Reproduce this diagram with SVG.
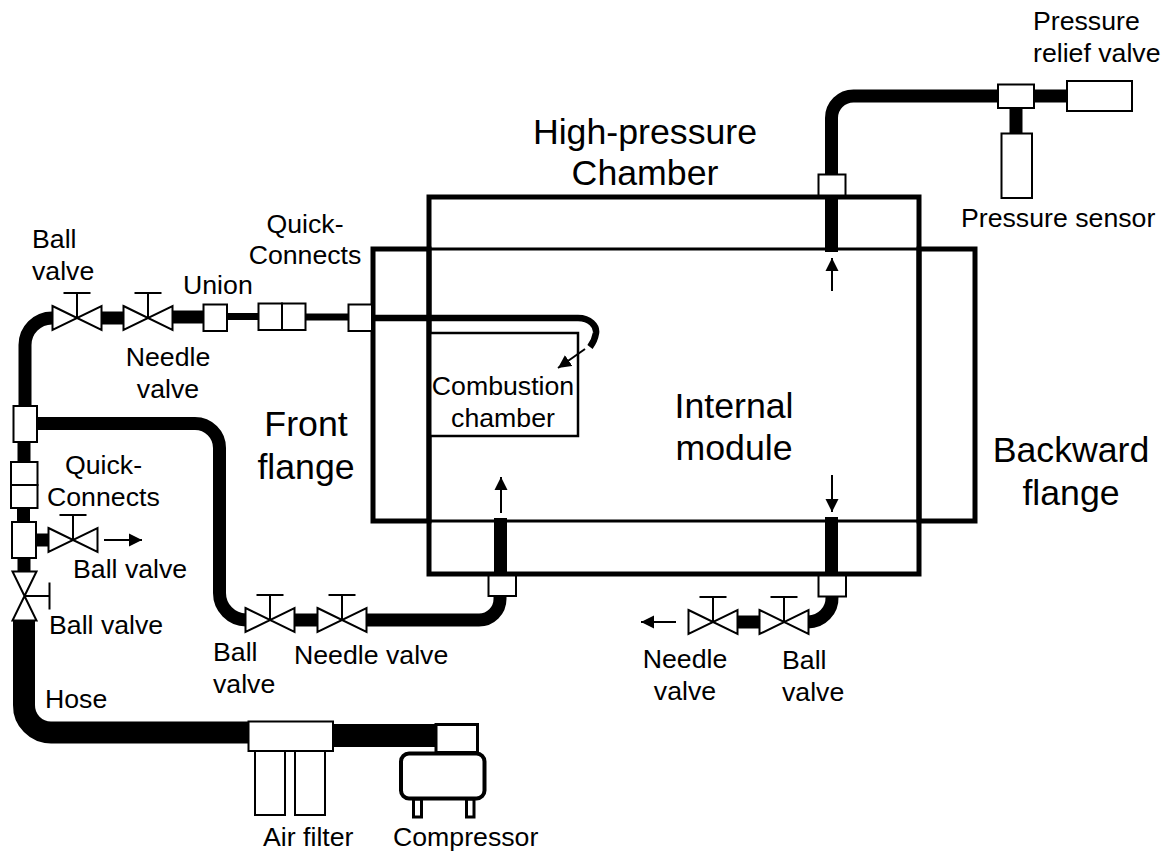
<svg xmlns="http://www.w3.org/2000/svg" width="1176" height="855" viewBox="0 0 1176 855">
<defs>
<marker id="ah" markerUnits="userSpaceOnUse" markerWidth="14" markerHeight="14" refX="13" refY="7" orient="auto"><path d="M0 0.5L13 7L0 13.5Z" fill="#000"/></marker>
<g id="valve"><path class="v" d="M-24.5 -12L24.5 12V-12L-24.5 12Z"/><path class="t" d="M0 0V-25M-13.5 -25H13.5"/></g>
</defs>
<style>
text{font-family:"Liberation Sans",Arial,sans-serif;font-size:26.7px;fill:#000}
.big{font-size:35.7px}
.m{text-anchor:middle}
.p{fill:none;stroke:#000;stroke-width:13}
.b{fill:#fff;stroke:#000;stroke-width:2}
.f{fill:none;stroke:#000;stroke-width:5}
.v{fill:#fff;stroke:#000;stroke-width:2}
.t{fill:none;stroke:#000;stroke-width:2}
.a{fill:none;stroke:#000;stroke-width:2;marker-end:url(#ah)}
</style>
<rect width="1176" height="855" fill="#fff"/>
<g id="connectors">
<path class="p" d="M831.5 185V118A22 22 0 0 1 853.5 96H1067"/>
<path class="p" d="M1016 108V134"/>
<path class="p" d="M25 406V345A27 27 0 0 1 52 318"/>
<path class="p" d="M100 318H123"/>
<path class="p" d="M173 317H204"/>
<path class="p" style="stroke-width:7" d="M227 316.500H258M305 317H348"/>
<path class="p" d="M24 442V462M23.500 508V522M36 540H48M24 558V571"/>
<path class="p" d="M37 423.500H195A24.500 24.500 0 0 1 219.500 448V593A27 27 0 0 0 246 620"/>
<path class="p" d="M294 620H317M366 620H479A21 21 0 0 0 500 599V590"/>
<path class="p" style="stroke-width:22" d="M24 620V705A27 27 0 0 0 51 732.500H250"/>
<path class="p" style="stroke-width:23" d="M333 735.500H437"/>
<path class="p" d="M832 590V597A24 24 0 0 1 808 622"/>
<path class="p" d="M737 622H759"/>
</g>
<g id="high-pressure-chamber">
<rect id="front-flange" class="f" x="373" y="249" width="56" height="272"/>
<rect id="backward-flange" class="f" x="919" y="249" width="56" height="272"/>
<rect class="b" x="429" y="333" width="149" height="103" style="stroke-width:2.500"/>
<path fill="none" stroke="#000" stroke-width="3" d="M429 249H919M429 521H919"/>
<rect class="f" x="429" y="197" width="490" height="377" />
</g>
<g id="internal-pipes">
<path class="p" d="M831.500 197V252M500.500 518V574M831.500 517V573"/>
<path fill="none" stroke="#000" stroke-width="6.500" d="M372 318H578C590 318 597 326 596 333C595 339 593 343 590 347"/>
</g>
<g id="arrows">
<path class="a" d="M832 291V258"/>
<path class="a" d="M501 513V477"/>
<path class="a" d="M832 475V512"/>
<path class="a" d="M104 540H142"/>
<path class="a" d="M676 622H641"/>
<path class="a" d="M585 349L558 368"/>
</g>
<g id="port-top"><rect class="b" x="818.500" y="174.500" width="27" height="21"/></g>
<g id="tee-top"><rect class="b" x="998" y="84.500" width="36" height="23.500"/></g>
<g id="pressure-relief-valve"><rect class="b" x="1067" y="81" width="65" height="30"/></g>
<g id="pressure-sensor"><rect class="b" x="1001.500" y="133.500" width="30.500" height="64.500"/></g>
<g id="valve-ball-top"><use href="#valve" x="77" y="318"/></g>
<g id="valve-needle-top"><use href="#valve" x="148" y="318"/></g>
<g id="union"><rect class="b" x="203.500" y="304.500" width="23.500" height="26.500"/></g>
<g id="quick-connects-top"><rect class="b" x="258.500" y="303.500" width="23.500" height="26.500"/><rect class="b" x="282" y="303.500" width="23.500" height="26.500"/></g>
<g id="port-front"><rect class="b" x="348.500" y="304.500" width="23.500" height="26.500"/></g>
<g id="tee-left-upper"><rect class="b" x="13.500" y="406" width="23.500" height="36"/></g>
<g id="quick-connects-left"><rect class="b" x="11" y="462" width="26.500" height="23"/><rect class="b" x="11" y="485" width="26.500" height="23"/></g>
<g id="tee-left-lower"><rect class="b" x="12" y="522" width="24" height="36"/></g>
<g id="valve-ball-side"><use href="#valve" x="73" y="540"/></g>
<g id="valve-ball-vertical"><use href="#valve" transform="translate(24.500 596) rotate(90)"/></g>
<g id="valve-ball-bottom"><use href="#valve" x="270" y="620"/></g>
<g id="valve-needle-bottom"><use href="#valve" x="342" y="620"/></g>
<g id="port-bottom-left"><rect class="b" x="488.500" y="575.500" width="27.500" height="20.500"/></g>
<g id="port-bottom-right"><rect class="b" x="818.500" y="575.500" width="27.500" height="21"/></g>
<g id="valve-ball-right"><use href="#valve" x="784" y="622"/></g>
<g id="valve-needle-right"><use href="#valve" x="713" y="622"/></g>
<g id="air-filter"><rect class="b" x="255" y="751" width="30" height="64"/><rect class="b" x="295" y="751" width="30" height="64"/><rect class="b" x="248.500" y="721.500" width="84.500" height="29.500"/></g>
<g id="compressor">
<rect class="b" x="413.500" y="799" width="8" height="18" style="stroke-width:3"/>
<rect class="b" x="466.500" y="799" width="7.500" height="18" style="stroke-width:3"/>
<rect class="b" x="436" y="724.500" width="41.500" height="28" style="stroke-width:3"/>
<rect class="b" x="401" y="753.500" width="83.500" height="45" rx="8" style="stroke-width:4"/>
</g>
<g id="labels">
<text x="1033" y="30">Pressure</text>
<text x="1033" y="62">relief valve</text>
<text x="961" y="227">Pressure sensor</text>
<text class="big m" x="645" y="144">High-pressure</text>
<text class="big m" x="645" y="185">Chamber</text>
<text class="m" x="305" y="233">Quick-</text>
<text class="m" x="305" y="264">Connects</text>
<text x="32" y="248">Ball</text>
<text x="32" y="280">valve</text>
<text x="183" y="294">Union</text>
<text class="m" x="168" y="366">Needle</text>
<text class="m" x="168" y="398">valve</text>
<text class="big m" x="306" y="436">Front</text>
<text class="big m" x="306" y="479">flange</text>
<text x="65" y="474">Quick-</text>
<text x="47" y="506">Connects</text>
<text x="73" y="578">Ball valve</text>
<text x="49" y="634">Ball valve</text>
<text x="45" y="708">Hose</text>
<text x="213" y="661">Ball</text>
<text x="213" y="693">valve</text>
<text x="294" y="664">Needle valve</text>
<text x="263" y="846">Air filter</text>
<text x="393" y="846">Compressor</text>
<text class="m" x="685" y="668">Needle</text>
<text class="m" x="685" y="700">valve</text>
<text x="782" y="669">Ball</text>
<text x="782" y="701">valve</text>
<text class="big m" x="734" y="418">Internal</text>
<text class="big m" x="734" y="460">module</text>
<text class="big m" x="1071" y="462">Backward</text>
<text class="big m" x="1071" y="505">flange</text>
<text class="m" x="503" y="395">Combustion</text>
<text class="m" x="503" y="427">chamber</text>
</g>
</svg>
